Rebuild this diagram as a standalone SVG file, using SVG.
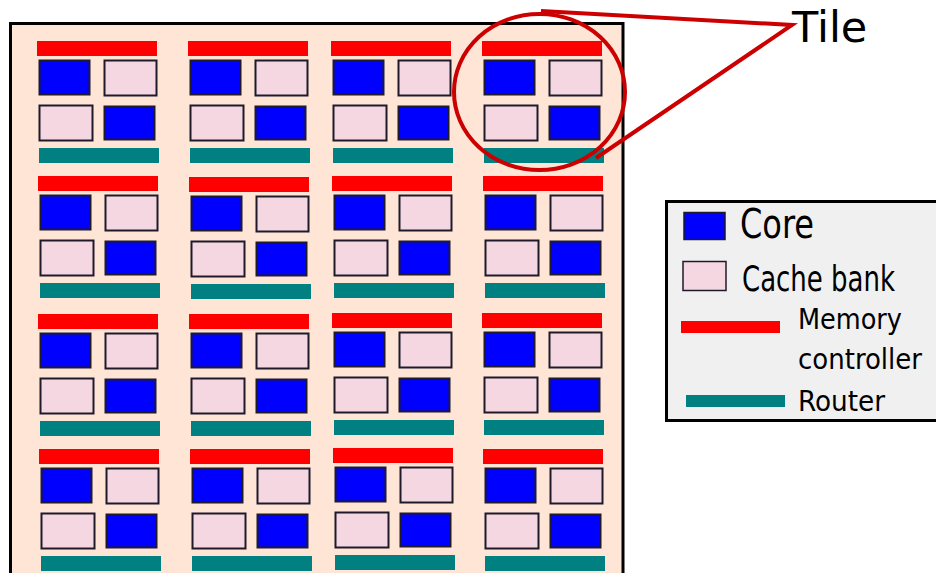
<svg xmlns="http://www.w3.org/2000/svg" xmlns:xlink="http://www.w3.org/1999/xlink" width="936" height="573" viewBox="0 0 936 573">
<style>
.mc{fill:#FF0000}
.rt{fill:#008080}
.core{fill:#0000FF;stroke:#1E1A2A;stroke-width:2}
.cache{fill:#F5D7E2;stroke:#1E1A2A;stroke-width:2}
.lbl{font-family:"DejaVu Sans","Liberation Sans",sans-serif;fill:#000}
.leg{font-family:"DejaVu Sans Condensed","DejaVu Sans","Liberation Sans",sans-serif;fill:#000}
.call{fill:none;stroke:#CC0000;stroke-width:4}
</style>
<defs>
<g id="tileT">
<rect class="mc" x="0" y="0" width="120" height="15"/>
<rect class="core" x="2.5" y="19.5" width="50" height="34"/>
<rect class="cache" x="67.5" y="19.5" width="52" height="35"/>
<rect class="cache" x="2.5" y="64.5" width="53" height="35"/>
<rect class="core" x="67.5" y="65.5" width="50" height="33"/>
<rect class="rt" x="2" y="107" width="120" height="15"/>
</g>
</defs>
<rect id="chip" x="10.5" y="23.5" width="612.5" height="570" fill="#FEE5D6" stroke="#000" stroke-width="3"/>
<g id="tiles">
<g id="tile-1-1"><use xlink:href="#tileT" x="37" y="41"/></g>
<g id="tile-1-2"><use xlink:href="#tileT" x="188" y="41"/></g>
<g id="tile-1-3"><use xlink:href="#tileT" x="331" y="41"/></g>
<g id="tile-1-4"><use xlink:href="#tileT" x="482" y="41"/></g>
<g id="tile-2-1"><use xlink:href="#tileT" x="38" y="176"/></g>
<g id="tile-2-2"><use xlink:href="#tileT" x="189" y="177"/></g>
<g id="tile-2-3"><use xlink:href="#tileT" x="332" y="176"/></g>
<g id="tile-2-4"><use xlink:href="#tileT" x="483" y="176"/></g>
<g id="tile-3-1"><use xlink:href="#tileT" x="38" y="314"/></g>
<g id="tile-3-2"><use xlink:href="#tileT" x="189" y="314"/></g>
<g id="tile-3-3"><use xlink:href="#tileT" x="332" y="313"/></g>
<g id="tile-3-4"><use xlink:href="#tileT" x="482" y="313"/></g>
<g id="tile-4-1"><use xlink:href="#tileT" x="39" y="449"/></g>
<g id="tile-4-2"><use xlink:href="#tileT" x="190" y="449"/></g>
<g id="tile-4-3"><use xlink:href="#tileT" x="333" y="448"/></g>
<g id="tile-4-4"><use xlink:href="#tileT" x="483" y="449"/></g>
</g>
<g id="legend">
<rect x="666.5" y="201.5" width="280" height="219" fill="#F0F0F0" stroke="#000" stroke-width="3"/>
<rect x="684" y="212.5" width="41" height="27" fill="#0000FF" stroke="#1E1A2A" stroke-width="1.5"/>
<text class="leg" x="740" y="238" font-size="40" textLength="74" lengthAdjust="spacingAndGlyphs">Core</text>
<rect x="683" y="261.5" width="43" height="29" fill="#F5D7E2" stroke="#1E1A2A" stroke-width="1.5"/>
<text class="leg" x="742" y="291" font-size="35" textLength="153" lengthAdjust="spacingAndGlyphs">Cache bank</text>
<rect x="681" y="321" width="99" height="12" fill="#FF0000"/>
<text class="leg" x="798" y="329" font-size="28.5" textLength="104" lengthAdjust="spacingAndGlyphs">Memory</text>
<text class="leg" x="798" y="369" font-size="28.5" textLength="124" lengthAdjust="spacingAndGlyphs">controller</text>
<rect x="686" y="395" width="99" height="12" fill="#008080"/>
<text class="leg" x="798" y="410.5" font-size="28.5" textLength="87" lengthAdjust="spacingAndGlyphs">Router</text>
</g>
<g id="callout">
<ellipse class="call" cx="539.5" cy="92" rx="85.5" ry="78"/>
<polyline class="call" points="541,11 792,25 596,158"/>
<text class="lbl" x="792" y="42" font-size="43">Tile</text>
</g>
</svg>
